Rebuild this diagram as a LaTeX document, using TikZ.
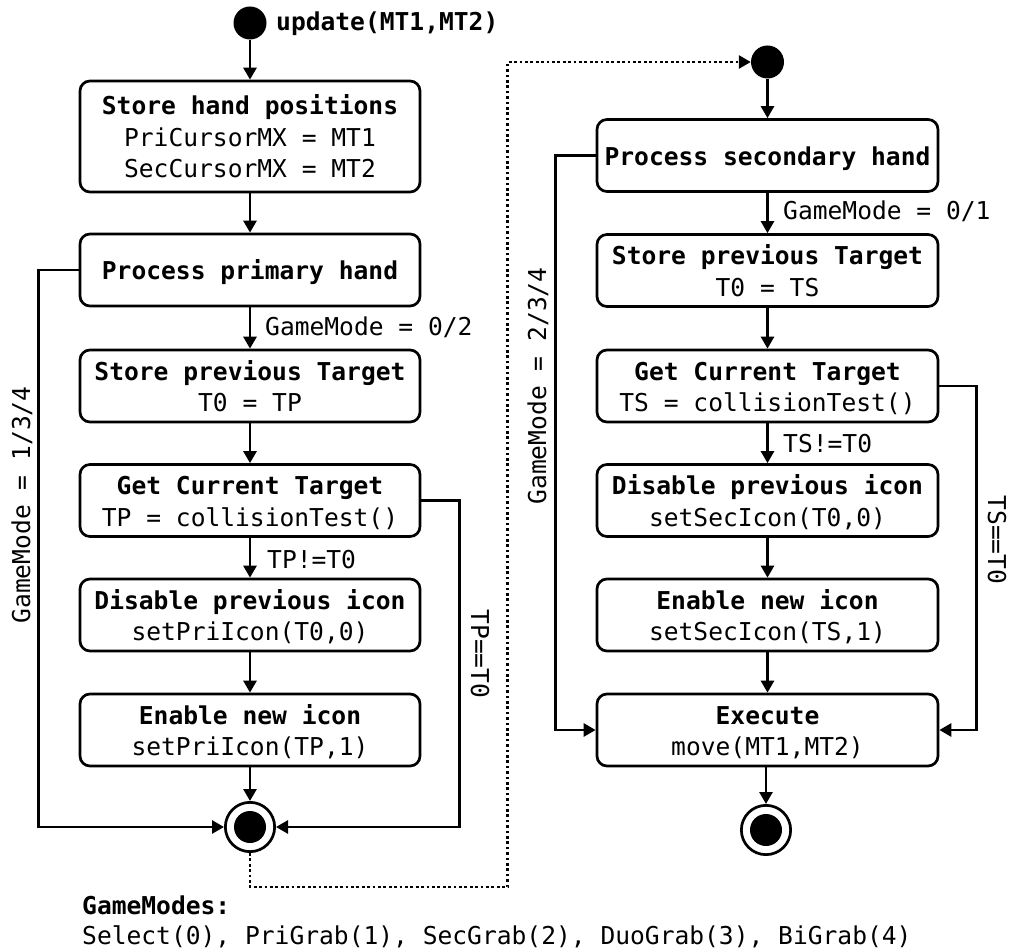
\documentclass[tikz,border=0pt]{standalone}
\usepackage{fontspec}
\setmonofont{DejaVu Sans Mono}
\usetikzlibrary{arrows.meta}
% struts that fix the first-line height and last-line depth of a box text
\newcommand\upst{\rule{0pt}{26pt}}
\newcommand\dnst{\rule[-6pt]{0pt}{0pt}}

\begin{document}
\begin{tikzpicture}[x=1pt,y=-1pt,
  every node/.style={font=\ttfamily\fontsize{24.6pt}{31.5pt}\selectfont},
  act/.style={draw, rounded corners=10pt, line width=2.7pt, align=center,
              inner sep=0pt, minimum width=340pt, minimum height=72pt},
  startdot/.style={circle, fill=black, inner sep=0pt, minimum size=33pt},
  enddot/.style={circle, draw, line width=2.7pt, inner sep=0pt, minimum size=49.3pt,
                 path picture={\fill (path picture bounding box.center) circle (16pt);}},
  flow/.style={line width=2.7pt, -{Triangle[length=12pt,width=13pt]}},
  jump/.style={flow, dash pattern=on 2.7pt off 2.7pt},
  lbl/.style={inner sep=0pt}
]
\useasboundingbox (0,0) rectangle (1013,952);

% ---- primary hand
\node[startdot] (s1) at (250,23) {};
\node[lbl, anchor=west] (upd) at (276,24) {\textbf{update(MT1,MT2)}};
\node[act, minimum height=111pt] (b1) at (250,136.5)
  {\upst\textbf{Store hand positions}\\PriCursorMX = MT1\\SecCursorMX = MT2\dnst};
\node[act] (b2) at (250,270) {\upst\textbf{Process primary hand}\dnst};
\node[act] (b3) at (250,386) {\upst\textbf{Store previous Target}\\T0 = TP\dnst};
\node[act] (b4) at (250,500.5) {\upst\textbf{Get Current Target}\\TP = collisionTest()\dnst};
\node[act] (b5) at (250,615) {\upst\textbf{Disable previous icon}\\setPriIcon(T0,0)\dnst};
\node[act] (b6) at (250,730) {\upst\textbf{Enable new icon}\\setPriIcon(TP,1)\dnst};
\node[enddot] (e1) at (250,827) {};

\draw[flow] (s1) -- (b1);
\draw[flow] (b1) -- (b2);
\draw[flow] (b2) -- (b3);
\draw[flow] (b3) -- (b4);
\draw[flow] (b4) -- (b5);
\draw[flow] (b5) -- (b6);
\draw[flow] (b6) -- (e1);
\draw[flow] (b2.west) -- ++(-40,0) |- (e1.west);
\draw[flow] (b4.east) -- ++(38,0) |- (e1.east);

\node[lbl, anchor=west] (g02) at (265,327) {GameMode = 0/2};
\node[lbl, anchor=west] (tpne) at (267,560) {TP!=T0};
\node[lbl, rotate=90] (g134) at (22,505) {GameMode = 1/3/4};
\node[lbl, rotate=-90] (tpeq) at (480,654) {TP==T0};

% ---- secondary hand
\node[startdot] (s2) at (767.5,62) {};
\node[act, minimum width=341pt] (r1) at (767.5,155.5) {\upst\textbf{Process secondary hand}\dnst};
\node[act, minimum width=341pt] (r2) at (767.5,270.5) {\upst\textbf{Store previous Target}\\T0 = TS\dnst};
\node[act, minimum width=341pt] (r3) at (767.5,386) {\upst\textbf{Get Current Target}\\TS = collisionTest()\dnst};
\node[act, minimum width=341pt] (r4) at (767.5,500.5) {\upst\textbf{Disable previous icon}\\setSecIcon(T0,0)\dnst};
\node[act, minimum width=341pt] (r5) at (767.5,615) {\upst\textbf{Enable new icon}\\setSecIcon(TS,1)\dnst};
\node[act, minimum width=341pt] (r6) at (767.5,730) {\upst\textbf{Execute}\\move(MT1,MT2)\dnst};
\node[enddot] (e2) at (766,830) {};

\draw[flow] (s2) -- (r1);
\draw[flow] (r1) -- (r2);
\draw[flow] (r2) -- (r3);
\draw[flow] (r3) -- (r4);
\draw[flow] (r4) -- (r5);
\draw[flow] (r5) -- (r6);
\draw[flow] (r6.south -| e2) -- (e2);
\draw[flow] (r1.west) -- ++(-40,0) |- (r6.west);
\draw[flow] (r3.east) -- ++(37,0) |- (r6.east);

\node[lbl, anchor=west] (g01) at (783,211) {GameMode = 0/1};
\node[lbl, anchor=west] (tsne) at (783,444) {TS!=T0};
\node[lbl, rotate=90] (g234) at (538,386) {GameMode = 2/3/4};
\node[lbl, rotate=-90] (tseq) at (997,540) {TS==T0};

% ---- hand-over from primary to secondary
\draw[jump] (e1.south) -- ++(0,34) -| ([xshift=-243pt]s2.west) -- (s2.west);

% ---- legend
\node[lbl, anchor=west] (leg1) at (82,905) {\textbf{GameModes:}};
\node[lbl, anchor=west] (leg2) at (82,937) {Select(0), PriGrab(1), SecGrab(2), DuoGrab(3), BiGrab(4)};
\end{tikzpicture}
\end{document}
